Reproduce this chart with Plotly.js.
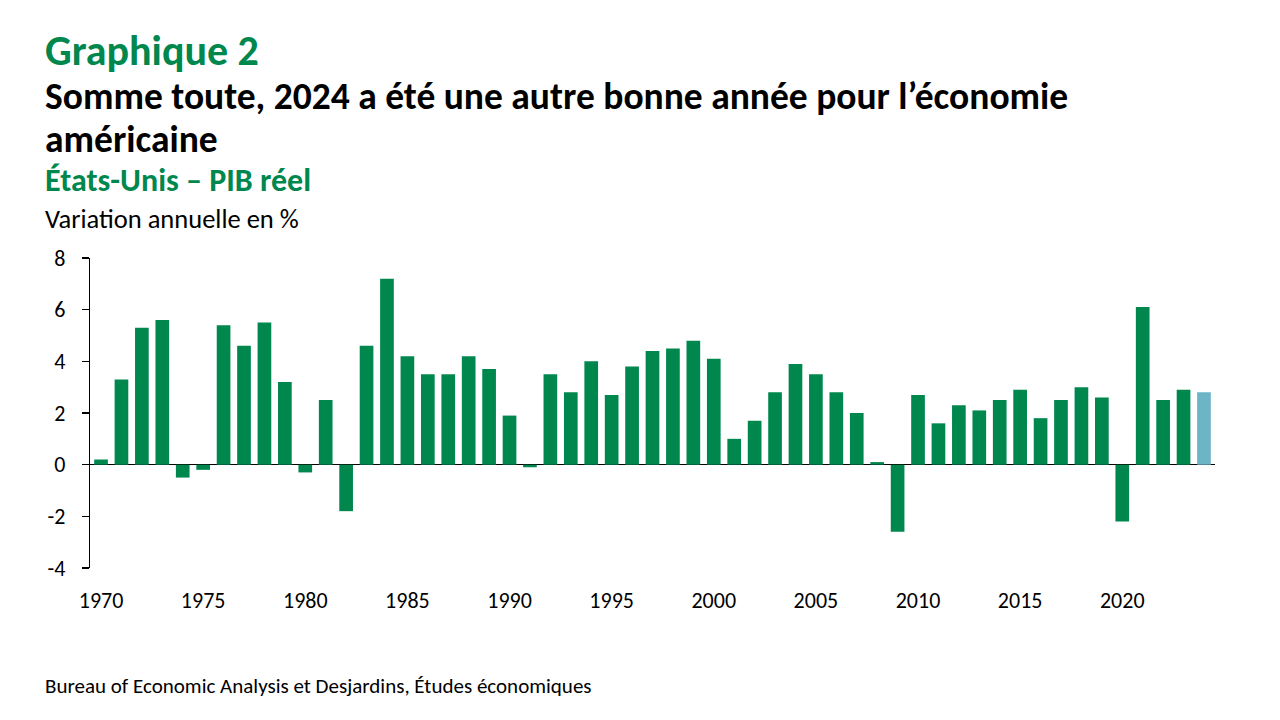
<!DOCTYPE html>
<html>
<head>
<meta charset="utf-8">
<script src="https://cdn.plot.ly/plotly-3.0.1.min.js"></script>
<style>html,body{margin:0;padding:0;background:#fff;}#chart{width:1280px;height:720px;}</style>
</head>
<body>
<div id="chart"></div>
<script>
var years = [1970,1971,1972,1973,1974,1975,1976,1977,1978,1979,1980,1981,1982,1983,1984,1985,1986,1987,1988,1989,1990,1991,1992,1993,1994,1995,1996,1997,1998,1999,2000,2001,2002,2003,2004,2005,2006,2007,2008,2009,2010,2011,2012,2013,2014,2015,2016,2017,2018,2019,2020,2021,2022,2023,2024];
var gdpGrowth = [0.2,3.3,5.3,5.6,-0.5,-0.2,5.4,4.6,5.5,3.2,-0.3,2.5,-1.8,4.6,7.2,4.2,3.5,3.5,4.2,3.7,1.9,-0.1,3.5,2.8,4.0,2.7,3.8,4.4,4.5,4.8,4.1,1.0,1.7,2.8,3.9,3.5,2.8,2.0,0.1,-2.6,2.7,1.6,2.3,2.1,2.5,2.9,1.8,2.5,3.0,2.6,-2.2,6.1,2.5,2.9,2.8];
var xTickVals = [1970,1975,1980,1985,1990,1995,2000,2005,2010,2015,2020];
var yTickVals = [-4,-2,0,2,4,6,8];
var yTickText = ['-4','-2','0','2','4','6','8'];
var highlightYear = 2024;

var GREEN = '#00874E';
var BLUE = '#6CB4C6';
var FONT = 'Carlito, Calibri, Lato, sans-serif';

var W = 1280, H = 720;
var M = {l: 89.5, r: 64.5, t: 258, b: 152};
var pw = W - M.l - M.r, ph = H - M.t - M.b;
function px(x){ return (x - M.l) / pw; }
function py(y){ return 1 - (y - M.t) / ph; }

var colors = years.map(function(y){ return y === highlightYear ? BLUE : GREEN; });

var trace = {
  type: 'bar',
  x: years,
  y: gdpGrowth,
  marker: {color: colors, line: {width: 0}},
  width: 0.67,
  hoverinfo: 'x+y'
};

function ann(text, xpix, ypix, size, color, bold){
  return {
    text: bold ? '<b>' + text + '</b>' : text,
    xref: 'paper', yref: 'paper',
    x: px(xpix), y: py(ypix),
    xanchor: 'left', yanchor: 'middle',
    showarrow: false,
    font: {family: FONT, size: size, color: color}
  };
}

var layout = {
  width: W, height: H,
  margin: M,
  paper_bgcolor: '#fff', plot_bgcolor: '#fff',
  showlegend: false,
  bargap: 0.33,
  font: {family: FONT, color: '#000'},
  xaxis: {
    range: [1969.46, 2024.54],
    tickmode: 'array', tickvals: xTickVals,
    ticks: '', showgrid: false, zeroline: false, showline: false,
    tickfont: {family: FONT, size: 22, color: '#000'},
    ticklabelstandoff: 17
  },
  yaxis: {
    range: [-4, 8],
    tickmode: 'array', tickvals: yTickVals, ticktext: yTickText,
    ticks: 'outside', ticklen: 7, tickcolor: '#000', tickwidth: 1.3,
    showline: true, linecolor: '#000', linewidth: 1.3,
    showgrid: false,
    zeroline: true, zerolinecolor: '#000', zerolinewidth: 1.5,
    tickfont: {family: FONT, size: 22, color: '#000'},
    ticklabelstandoff: 12
  },
  annotations: [
    ann('Graphique 2', 42, 50, 42, GREEN, true),
    ann('Somme toute, 2024 a été une autre bonne année pour l’économie', 42, 95.5, 37.5, '#000', true),
    ann('américaine', 42, 139, 37.5, '#000', true),
    ann('États-Unis – PIB réel', 42, 180, 32, GREEN, true),
    ann('Variation annuelle en %', 42, 219, 26.5, '#000', false),
    ann('Bureau of Economic Analysis et Desjardins, Études économiques', 42, 686, 21, '#000', false)
  ]
};

Plotly.newPlot('chart', [trace], layout, {displayModeBar: false, staticPlot: true});
</script>
</body>
</html>
